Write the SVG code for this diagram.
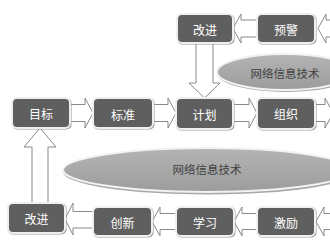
<svg xmlns="http://www.w3.org/2000/svg" width="330" height="250" viewBox="0 0 330 250">
<defs>
<linearGradient id="eg" x1="0" y1="0" x2="0" y2="1">
<stop offset="0" stop-color="#b4b4b4"/>
<stop offset="1" stop-color="#9c9c9c"/>
</linearGradient>
<style>
.bx{fill:#5f5f5f;stroke:#efefef;stroke-width:2}
.sh{fill:#9a9a9a}
.t{font-family:"Noto Sans CJK SC","Noto Sans",sans-serif;font-size:12px;fill:#ffffff;text-anchor:middle;dominant-baseline:central}
.ar{fill:#ffffff;stroke:#8a8a8a;stroke-width:1}
.el{fill:url(#eg);stroke:#f2f2f2;stroke-width:2}
.es{fill:#a8a8a8}
.et{font-family:"Noto Sans CJK SC","Noto Sans",sans-serif;font-size:11.5px;fill:#404040;text-anchor:middle;dominant-baseline:central}
</style>
</defs>
<rect width="330" height="250" fill="#ffffff"/>

<g id="ellipse-top">
<ellipse class="es" cx="286" cy="73.5" rx="69" ry="18.5"/>
<ellipse class="el" cx="285" cy="72" rx="68" ry="18"/>
<text class="et" x="285" y="73">网络信息技术</text>
</g>
<g id="ellipse-bottom">
<ellipse class="es" cx="208" cy="172" rx="145" ry="22.5"/>
<ellipse class="el" cx="207" cy="170" rx="144" ry="22"/>
<text class="et" x="207" y="169">网络信息技术</text>
</g>

<g id="connectors">
<!-- top row leftward -->
<path class="ar" d="M233,28.5 L241,14 L241,20 L257,20 L257,37 L241,37 L241,43 Z"/>
<path class="ar" d="M318,28.5 L326,14 L326,20 L335,20 L335,37 L326,37 L326,43 Z"/>
<!-- down arrow -->
<path class="ar" d="M196,43 L213,43 L213,83 L220,83 L204.5,98 L189,83 L196,83 Z"/>
<!-- middle row rightward -->
<path class="ar" d="M70,104.5 L85,104.5 L85,98 L93,113 L85,128 L85,121.5 L70,121.5 Z"/>
<path class="ar" d="M153,104.5 L168,104.5 L168,98 L176,113 L168,128 L168,121.5 L153,121.5 Z"/>
<path class="ar" d="M233,104.5 L249,104.5 L249,98 L257,113 L249,128 L249,121.5 L233,121.5 Z"/>
<path class="ar" d="M315,104.5 L325,104.5 L325,98 L333,113 L325,128 L325,121.5 L315,121.5 Z"/>
<!-- up arrow -->
<path class="ar" d="M32,203 L48,203 L48,147 L56,147 L40,128 L24,147 L32,147 Z"/>
<!-- bottom row leftward -->
<path class="ar" d="M65,219 L73,203 L73,211.5 L93,211.5 L93,228 L73,228 L73,235 Z"/>
<path class="ar" d="M152,221.5 L160,207 L160,213.5 L176,213.5 L176,229.5 L160,229.5 L160,236 Z"/>
<path class="ar" d="M234,221.5 L242,207 L242,213.5 L257,213.5 L257,229.5 L242,229.5 L242,236 Z"/>
<path class="ar" d="M316,221.5 L324,207 L324,213.5 L335,213.5 L335,229.5 L324,229.5 L324,236 Z"/>
</g>

<g id="n-gaijin-top">
<rect class="sh" x="177" y="14" width="57.5" height="30.5" rx="5"/>
<rect class="bx" x="177" y="14" width="56" height="29" rx="5"/>
<text class="t" x="205" y="29">改进</text>
</g>
<g id="n-yujing">
<rect class="sh" x="257" y="14" width="59.5" height="30.5" rx="5"/>
<rect class="bx" x="257" y="14" width="58" height="29" rx="5"/>
<text class="t" x="286" y="29">预警</text>
</g>

<g id="n-mubiao">
<rect class="sh" x="12" y="98" width="59.5" height="31.5" rx="5"/>
<rect class="bx" x="12" y="98" width="58" height="30" rx="5"/>
<text class="t" x="41" y="113">目标</text>
</g>
<g id="n-biaozhun">
<rect class="sh" x="93" y="98" width="61.5" height="31.5" rx="5"/>
<rect class="bx" x="93" y="98" width="60" height="30" rx="5"/>
<text class="t" x="123" y="114">标准</text>
</g>
<g id="n-jihua">
<rect class="sh" x="176" y="98" width="58.5" height="32.5" rx="5"/>
<rect class="bx" x="176" y="98" width="57" height="31" rx="5"/>
<text class="t" x="204.5" y="114">计划</text>
</g>
<g id="n-zuzhi">
<rect class="sh" x="257" y="98" width="59.5" height="32.5" rx="5"/>
<rect class="bx" x="257" y="98" width="58" height="31" rx="5"/>
<text class="t" x="286" y="113">组织</text>
</g>

<g id="n-gaijin-bottom">
<rect class="sh" x="8" y="203" width="58.5" height="31.5" rx="5"/>
<rect class="bx" x="8" y="203" width="57" height="30" rx="5"/>
<text class="t" x="36.5" y="218">改进</text>
</g>
<g id="n-chuangxin">
<rect class="sh" x="93" y="207" width="60.5" height="30.5" rx="5"/>
<rect class="bx" x="93" y="207" width="59" height="29" rx="5"/>
<text class="t" x="122.5" y="222">创新</text>
</g>
<g id="n-xuexi">
<rect class="sh" x="176" y="207" width="59.5" height="30.5" rx="5"/>
<rect class="bx" x="176" y="207" width="58" height="29" rx="5"/>
<text class="t" x="205" y="222">学习</text>
</g>
<g id="n-jili">
<rect class="sh" x="257" y="207" width="59.5" height="30.5" rx="5"/>
<rect class="bx" x="257" y="207" width="58" height="29" rx="5"/>
<text class="t" x="286" y="222">激励</text>
</g>
</svg>
